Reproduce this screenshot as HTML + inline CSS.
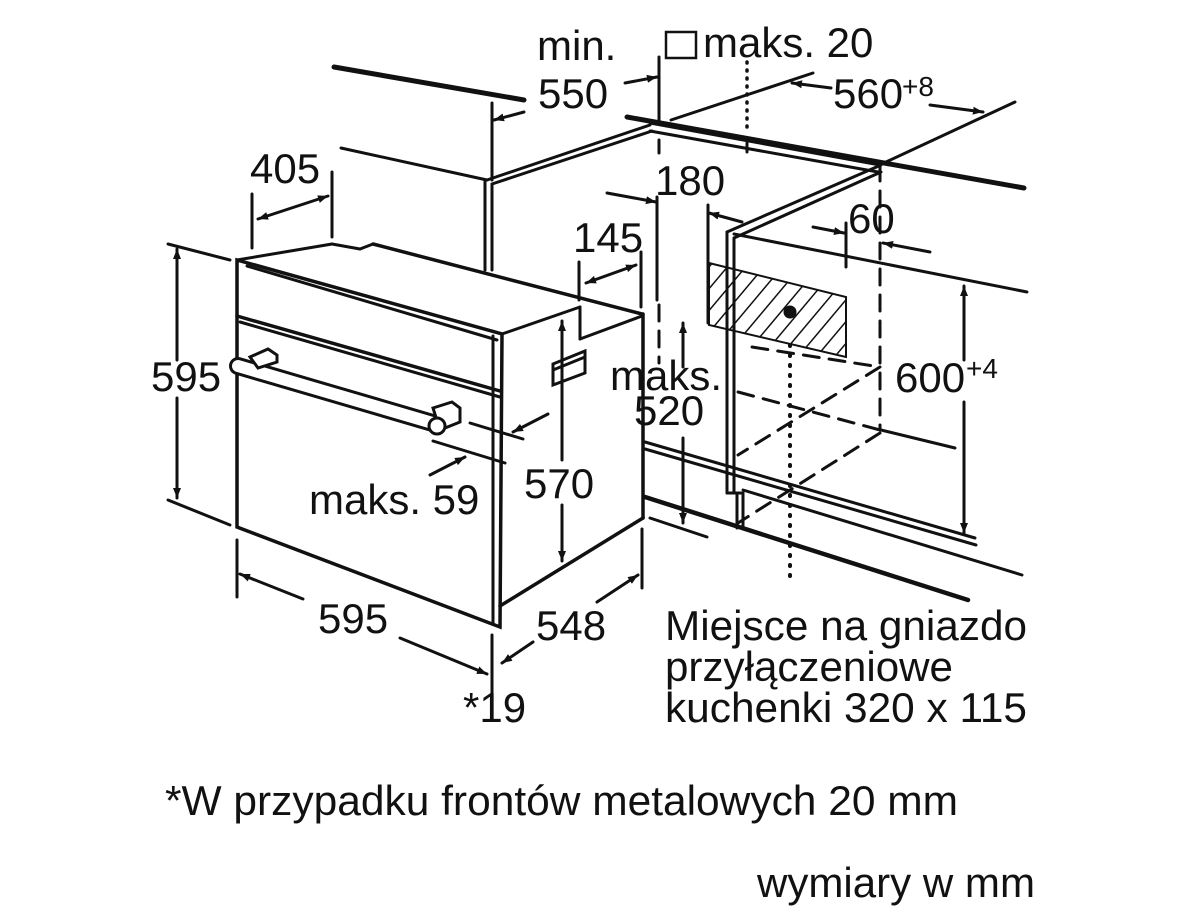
<!DOCTYPE html>
<html><head><meta charset="utf-8"><style>
html,body{margin:0;padding:0;background:#fff;}
svg{display:block;}
text{font-family:"Liberation Sans",Arial,sans-serif;font-size:42px;fill:#111;}
</style></head><body>
<svg width="1200" height="916" viewBox="0 0 1200 916" xmlns="http://www.w3.org/2000/svg">
<defs>
<marker id="a" viewBox="0 0 10 10" refX="10" refY="5" markerWidth="10" markerHeight="10" orient="auto-start-reverse" markerUnits="userSpaceOnUse"><path d="M0,1 L10,5 L0,9 Z" fill="#111"/></marker>
<pattern id="h" width="14" height="14" patternUnits="userSpaceOnUse" patternTransform="rotate(40)"><line x1="0" y1="0" x2="0" y2="14" stroke="#111" stroke-width="3"/></pattern>
</defs>
<g stroke="#111" stroke-width="3" fill="none" stroke-linecap="round">
<line x1="334" y1="67" x2="524" y2="100" stroke-width="5"/>
<line x1="627" y1="117" x2="1024" y2="188" stroke-width="5"/>
<line x1="341" y1="148" x2="487" y2="180"/>
<line x1="487" y1="180" x2="650" y2="125"/>
<line x1="492" y1="184" x2="652" y2="131"/>
<line x1="485" y1="180" x2="485" y2="270"/>
<line x1="492" y1="184" x2="492" y2="270"/>
<line x1="671" y1="120" x2="813" y2="73"/>
<line x1="650" y1="123" x2="880" y2="165"/>
<line x1="650" y1="131" x2="878" y2="172"/>
<line x1="747" y1="143" x2="747" y2="152"/>
<line x1="886" y1="162" x2="1015" y2="102"/>
<line x1="727" y1="232" x2="881" y2="165"/>
<line x1="734" y1="238" x2="881" y2="172"/>
<line x1="727" y1="232" x2="727" y2="493"/>
<line x1="734" y1="238" x2="734" y2="493"/>
<line x1="727" y1="493" x2="743" y2="493"/>
<line x1="737" y1="493" x2="737" y2="528"/>
<line x1="743" y1="493" x2="743" y2="528"/>
<line x1="734" y1="234" x2="1027" y2="292"/>
<polygon points="709,263 846,297 846,357 709,325" fill="url(#h)" stroke-width="2"/>
<circle cx="790" cy="312" r="5" fill="#111"/>
<line x1="790" y1="345" x2="790" y2="583" stroke-width="4" stroke-dasharray="1 9"/>
<g stroke-dasharray="16 10">
<line x1="752" y1="347" x2="880" y2="367"/>
<line x1="738" y1="392" x2="880" y2="430"/>
<line x1="880" y1="367" x2="738" y2="455"/>
<line x1="880" y1="433" x2="738" y2="523"/>
<line x1="880" y1="165" x2="880" y2="430"/>
<line x1="659" y1="305" x2="659" y2="363"/>
</g>
<line x1="881" y1="430" x2="955" y2="448"/>
<line x1="645" y1="442" x2="975" y2="538"/>
<line x1="645" y1="449" x2="976" y2="545"/>
<line x1="743" y1="490" x2="1022" y2="575"/>
<line x1="645" y1="497" x2="968" y2="600" stroke-width="4.5"/>
<line x1="650" y1="518" x2="707" y2="537"/>
<polygon points="237,260 502,334 500,627 237,527" stroke-width="3.5"/>
<line x1="493" y1="336" x2="493" y2="623"/>
<line x1="247" y1="266" x2="497" y2="340"/>
<line x1="237" y1="316" x2="500" y2="391" stroke-width="3.5"/>
<line x1="240" y1="322" x2="500" y2="397"/>
<line x1="237" y1="260" x2="332" y2="244"/>
<line x1="332" y1="244" x2="360" y2="249"/>
<line x1="360" y1="249" x2="373" y2="244"/>
<line x1="373" y1="244" x2="642" y2="314" stroke-width="3.5"/>
<line x1="502" y1="334" x2="580" y2="307"/>
<line x1="580" y1="307" x2="580" y2="339"/>
<line x1="580" y1="339" x2="642" y2="316"/>
<line x1="643" y1="314" x2="643" y2="518" stroke-width="3.5"/>
<line x1="500" y1="606" x2="643" y2="518" stroke-width="3.5"/>
<line x1="238" y1="366" x2="436" y2="424" stroke-width="18" stroke="#111"/>
<line x1="238" y1="366" x2="436" y2="424" stroke-width="12" stroke="#fff"/>
<polygon points="250,357 268,349 277,355 277,362 258,368" fill="#fff"/>
<polygon points="433,408 452,402 460,408 460,422 440,430" fill="#fff"/>
<circle cx="437" cy="426" r="8" fill="#fff"/>
<polygon points="553,364 585,351 585,373 553,385"/>
<line x1="553" y1="370" x2="585" y2="357"/>
<line x1="252" y1="194" x2="252" y2="248"/>
<line x1="332" y1="172" x2="332" y2="237"/>
<line x1="258" y1="219" x2="328" y2="196" marker-start="url(#a)" marker-end="url(#a)"/>
<line x1="168" y1="244" x2="230" y2="260"/>
<line x1="168" y1="500" x2="230" y2="525"/>
<line x1="177" y1="249" x2="177" y2="360" marker-start="url(#a)"/>
<line x1="177" y1="398" x2="177" y2="498" marker-end="url(#a)"/>
<line x1="237" y1="540" x2="237" y2="597"/>
<line x1="492" y1="635" x2="492" y2="699"/>
<line x1="303" y1="599" x2="240" y2="574" marker-end="url(#a)"/>
<line x1="400" y1="638" x2="487" y2="674" marker-end="url(#a)"/>
<line x1="642" y1="529" x2="642" y2="588"/>
<line x1="597" y1="602" x2="638" y2="575" marker-end="url(#a)"/>
<line x1="533" y1="642" x2="502" y2="663" marker-end="url(#a)"/>
<line x1="562" y1="321" x2="562" y2="460" marker-start="url(#a)"/>
<line x1="562" y1="505" x2="562" y2="561" marker-end="url(#a)"/>
<line x1="470" y1="423" x2="523" y2="439"/>
<line x1="548" y1="414" x2="513" y2="432" marker-end="url(#a)"/>
<line x1="433" y1="441" x2="505" y2="463"/>
<line x1="430" y1="475" x2="465" y2="457" marker-end="url(#a)"/>
<line x1="579" y1="262" x2="579" y2="300"/>
<line x1="641" y1="252" x2="641" y2="307"/>
<line x1="586" y1="283" x2="636" y2="265" marker-start="url(#a)" marker-end="url(#a)"/>
<line x1="657" y1="197" x2="657" y2="300"/>
<line x1="708" y1="205" x2="708" y2="323"/>
<line x1="607" y1="193" x2="656" y2="202" marker-end="url(#a)"/>
<line x1="742" y1="222" x2="709" y2="213" marker-end="url(#a)"/>
<line x1="846" y1="223" x2="846" y2="267"/>
<line x1="813" y1="227" x2="844" y2="233" marker-end="url(#a)"/>
<line x1="930" y1="252" x2="883" y2="243" marker-end="url(#a)"/>
<line x1="683" y1="367" x2="683" y2="323" marker-end="url(#a)"/>
<line x1="683" y1="438" x2="683" y2="523" marker-end="url(#a)"/>
<line x1="964" y1="360" x2="964" y2="286" marker-end="url(#a)"/>
<line x1="964" y1="402" x2="964" y2="533" marker-end="url(#a)"/>
<line x1="492" y1="103" x2="492" y2="180"/>
<line x1="524" y1="112" x2="494" y2="120" marker-end="url(#a)"/>
<line x1="659" y1="57" x2="659" y2="120"/>
<line x1="625" y1="83" x2="657" y2="77" marker-end="url(#a)"/>
<line x1="659" y1="140" x2="659" y2="153"/>
<line x1="747" y1="62" x2="747" y2="130" stroke-width="3.5" stroke-dasharray="1 7"/>
<line x1="831" y1="88" x2="792" y2="83" marker-end="url(#a)"/>
<line x1="930" y1="105" x2="983" y2="112" marker-end="url(#a)"/>
<rect x="666" y="32" width="30" height="26" stroke-width="2.5"/>
</g>
<text x="537" y="60">min.</text>
<text x="538" y="108">550</text>
<text x="703" y="57">maks. 20</text>
<text x="833" y="108">560</text>
<text x="902" y="96" style="font-size:28px">+8</text>
<text x="250" y="183">405</text>
<text x="655" y="195">180</text>
<text x="848" y="233">60</text>
<text x="573" y="252">145</text>
<text x="151" y="391">595</text>
<text x="610" y="390">maks.</text>
<text x="634" y="425">520</text>
<text x="895" y="392">600</text>
<text x="966" y="378" style="font-size:28px">+4</text>
<text x="524" y="498">570</text>
<text x="309" y="514">maks. 59</text>
<text x="318" y="633">595</text>
<text x="536" y="640">548</text>
<text x="665" y="640" textLength="362" lengthAdjust="spacingAndGlyphs">Miejsce na gniazdo</text>
<text x="665" y="681" textLength="288" lengthAdjust="spacingAndGlyphs">przyłączeniowe</text>
<text x="665" y="722" textLength="362" lengthAdjust="spacingAndGlyphs">kuchenki 320 x 115</text>
<text x="463" y="722">*19</text>
<text x="165" y="815" textLength="793" lengthAdjust="spacingAndGlyphs">*W przypadku frontów metalowych 20 mm</text>
<text x="757" y="897" textLength="278" lengthAdjust="spacingAndGlyphs">wymiary w mm</text>
</svg>
</body></html>
